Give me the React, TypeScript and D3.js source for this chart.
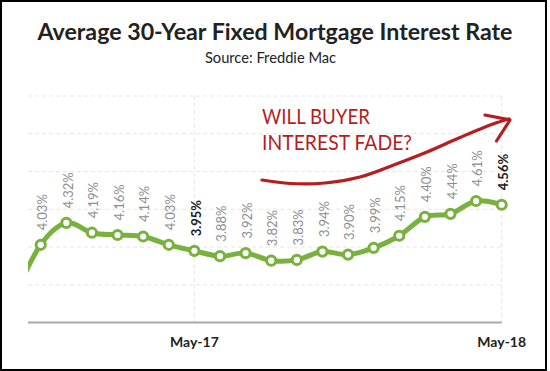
import React from 'react';
import * as d3 from 'd3';

const months = ['Oct-16','Nov-16','Dec-16','Jan-17','Feb-17','Mar-17','Apr-17','May-17','Jun-17','Jul-17','Aug-17','Sep-17','Oct-17','Nov-17','Dec-17','Jan-18','Feb-18','Mar-18','Apr-18','May-18'];
const rates = [3.37,4.03,4.32,4.19,4.16,4.14,4.03,3.95,3.88,3.92,3.82,3.83,3.94,3.90,3.99,4.15,4.40,4.44,4.61,4.56];
const labelText = ['','4.03%','4.32%','4.19%','4.16%','4.14%','4.03%','3.95%','3.88%','3.92%','3.82%','3.83%','3.94%','3.90%','3.99%','4.15%','4.40%','4.44%','4.61%','4.56%'];
const boldMonths = ['May-17','May-18'];
const xTickLabels = ['May-17','May-18'];
const yTicks = [3.5,4,4.5,5,5.5,6];
const titleText = 'Average 30-Year Fixed Mortgage Interest Rate';
const subtitleText = 'Source: Freddie Mac';
const noteLines = ['WILL BUYER','INTEREST FADE?'];

const W = 550, H = 371;
const FONT = 'Lato, "Open Sans", sans-serif';
const GREEN = '#79b13f';
const RED = '#b51d1f';

export default function App() {
  const plotLeft = 28, plotRight = 501.7, plotTop = 96, plotBottom = 322.6;
  const x = d3.scalePoint<string>().domain(months).range([15.1, plotRight]);
  const y = d3.scaleLinear().domain([3, 6]).range([plotBottom, plotTop]);

  const line = d3.line<number>()
    .x((_, i) => x(months[i]) as number)
    .y(d => y(d))
    .curve(d3.curveCardinal.tension(0));

  const arrowPts: [number, number][] = [[262,180],[290,183.5],[325,183],[360,177],[395,164.5],[427,152],[460,137.5],[493,124],[509,119]];
  const arrow = d3.line().curve(d3.curveCatmullRom.alpha(0.5))(arrowPts) as string;

  return (
    <svg width={W} height={H} style={{ position: 'absolute', left: 0, top: 0, display: 'block', background: '#fff' }}>
      <defs>
        <clipPath id="plotclip">
          <rect x={plotLeft} y={0} width={W - plotLeft} height={H} />
        </clipPath>
      </defs>
      <rect x={0} y={0} width={W} height={H} fill="#fff" />
      <rect x={1} y={1} width={545} height={369} fill="none" stroke="#000" strokeWidth={2} />

      <text x={275} y={39.5} textAnchor="middle" fontFamily={FONT} fontWeight="bold" fontSize={23.2} fill="#222">{titleText}</text>
      <text x={270.5} y={62.7} textAnchor="middle" fontFamily={FONT} fontSize={14.7} fill="#222">{subtitleText}</text>

      {yTicks.map(t => (
        <line key={t} x1={plotLeft} x2={plotRight} y1={y(t)} y2={y(t)} stroke="#e6e6e6" strokeWidth={1} strokeDasharray="4,3" />
      ))}
      {xTickLabels.map(m => (
        <line key={m} x1={x(m)} x2={x(m)} y1={plotTop} y2={plotBottom} stroke="#e6e6e6" strokeWidth={1} strokeDasharray="4,3" />
      ))}
      <line x1={plotLeft} x2={plotRight} y1={y(3)} y2={y(3)} stroke="#aaaaaa" strokeWidth={2} />
      {xTickLabels.map(m => (
        <text key={m} x={x(m)} y={347.3} textAnchor="middle" fontFamily={FONT} fontWeight="bold" fontSize={14} fill="#222">{m}</text>
      ))}

      <g clipPath="url(#plotclip)">
        <path d={line(rates) as string} fill="none" stroke={GREEN} strokeWidth={5} strokeLinejoin="round" />
        {rates.map((r, i) => (
          <circle key={i} cx={x(months[i])} cy={y(r)} r={4.6} fill="#fff" stroke={GREEN} strokeWidth={3} />
        ))}
        {rates.map((r, i) => {
          if (!labelText[i]) return null;
          const bold = boldMonths.includes(months[i]);
          const lx = (x(months[i]) as number) + 1.5;
          const ly = y(r) - 14.5;
          return (
            <text key={'l' + i} transform={`translate(${lx},${ly}) rotate(-90)`} dy="0.36em"
              fontFamily={FONT} fontSize={13} fontWeight={bold ? 'bold' : 'normal'} fill={bold ? '#1a1a1a' : '#8e8e8e'}>
              {labelText[i]}
            </text>
          );
        })}
      </g>

      <text x={262} y={124.3} fontFamily={FONT} fontSize={22} fill={RED} textLength={108} lengthAdjust="spacingAndGlyphs">{noteLines[0]}</text>
      <text x={262} y={150} fontFamily={FONT} fontSize={22} fill={RED} textLength={150} lengthAdjust="spacingAndGlyphs">{noteLines[1]}</text>
      <path d={arrow} fill="none" stroke={RED} strokeWidth={3.2} strokeLinecap="round" />
      <path d="M485,115 L510,120 L496.5,141" fill="none" stroke={RED} strokeWidth={3.2} strokeLinecap="round" strokeLinejoin="round" />
    </svg>
  );
}
